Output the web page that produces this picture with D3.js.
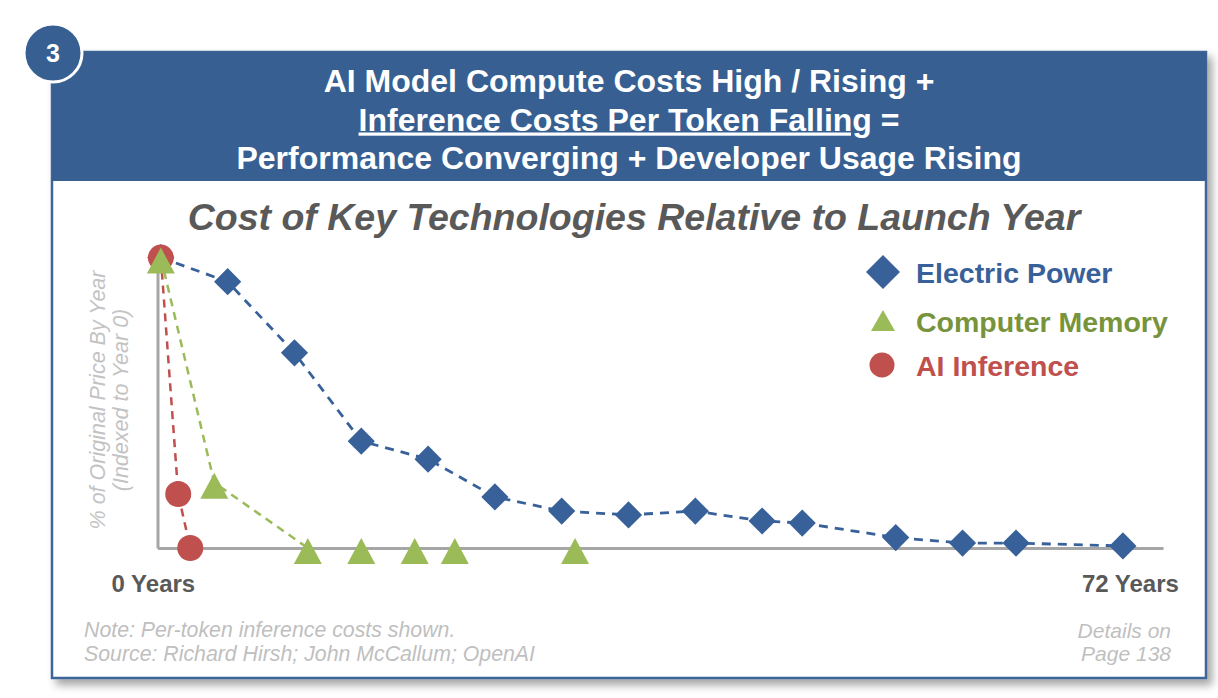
<!DOCTYPE html>
<html>
<head>
<meta charset="utf-8">
<script src="https://cdn.jsdelivr.net/npm/d3@7"></script>
<style>
  body { margin: 0; background: #fff; }
  text { font-family: Arial, "Liberation Sans", sans-serif; }
</style>
</head>
<body>
<svg id="chart" width="1218" height="698"></svg>
<script>
// series (x = years since launch, y = % of year-0 price)
const powerYears  = [0, 5, 10, 15, 20, 25, 30, 35, 40, 45, 48, 55, 60, 64, 72];
const powerValues = [100, 91.7, 67.2, 36.8, 30.6, 17.6, 12.7, 11.4, 12.7, 9.3, 8.6, 3.6, 1.7, 1.7, 0.7];

const memoryYears  = [0, 4, 11, 15, 19, 22, 31];
const memoryValues = [100, 22.5, 0, 0, 0, 0, 0];

const aiYears  = [0, 1.3, 2.2];
const aiValues = [100, 18.6, 0];

const seriesNames = ["Electric Power", "Computer Memory", "AI Inference"];
const tickValues  = [0, 72];
const tickLabels  = ["0 Years", "72 Years"];

const titleLines = ["AI Model Compute Costs High / Rising +", "Inference Costs Per Token Falling", "Performance Converging + Developer Usage Rising"];
const subtitle = "Cost of Key Technologies Relative to Launch Year";
const yLabel = ["% of Original Price By Year", "(Indexed to Year 0)"];
const notes = ["Note: Per-token inference costs shown.", "Source: Richard Hirsh; John McCallum; OpenAI"];
const details = ["Details on", "Page 138"];

const BLUE = "#38619a", GREEN = "#9bbb59", RED = "#c0504d", BANNER = "#375f92";

const svg = d3.select("#chart");

// drop shadow for the card
const defs = svg.append("defs");
defs.append("filter").attr("id", "shadow")
    .attr("x", "-5%").attr("y", "-5%").attr("width", "110%").attr("height", "115%")
  .append("feDropShadow")
    .attr("dx", 5).attr("dy", 6).attr("stdDeviation", 4)
    .attr("flood-color", "#000").attr("flood-opacity", 0.35);

// card + banner
svg.append("rect")
    .attr("x", 52).attr("y", 52).attr("width", 1154).attr("height", 626)
    .attr("fill", "#fff").attr("stroke", "#3d6597").attr("stroke-width", 2.5)
    .attr("filter", "url(#shadow)");
svg.append("rect")
    .attr("x", 52).attr("y", 52).attr("width", 1154).attr("height", 129)
    .attr("fill", BANNER);

// number badge
svg.append("circle").attr("cx", 53).attr("cy", 53).attr("r", 29)
    .attr("fill", BANNER).attr("stroke", "#fff").attr("stroke-width", 3);
svg.append("text").attr("x", 53).attr("y", 62)
    .attr("text-anchor", "middle").attr("fill", "#fff")
    .attr("font-size", 25).attr("font-weight", "bold").text("3");

// banner title
const tCx = 629;
svg.append("text").attr("x", tCx).attr("y", 92).attr("text-anchor", "middle")
    .attr("fill", "#fff").attr("font-size", 32).attr("font-weight", "bold")
    .text(titleLines[0]);
const t2 = svg.append("text").attr("x", tCx).attr("y", 130.5).attr("text-anchor", "middle")
    .attr("fill", "#fff").attr("font-size", 32).attr("font-weight", "bold");
t2.append("tspan").attr("text-decoration", "underline").text(titleLines[1]);
t2.append("tspan").text(" =");
svg.append("text").attr("x", tCx).attr("y", 169).attr("text-anchor", "middle")
    .attr("fill", "#fff").attr("font-size", 32).attr("font-weight", "bold")
    .text(titleLines[2]);

// chart title
svg.append("text").attr("x", 634).attr("y", 230).attr("text-anchor", "middle")
    .attr("fill", "#595959").attr("font-size", 37.5).attr("font-weight", "bold")
    .attr("font-style", "italic").text(subtitle);

// scales (y axis sits a hair left of year 0)
const x = d3.scaleLinear().domain([-0.25, 75]).range([157.5, 1163]);
const y = d3.scaleLinear().domain([0, 104]).range([548, 246]);

// axes (no ticks, just the grey lines)
const xAxis = svg.append("g").attr("transform", `translate(0,${y(0)})`)
    .call(d3.axisBottom(x).tickValues(tickValues).tickSize(0).tickSizeOuter(0).tickPadding(27)
        .tickFormat((d, i) => tickLabels[i]));
xAxis.select(".domain").attr("stroke", "#a6a6a6").attr("stroke-width", 3);
xAxis.selectAll("text").attr("font-size", 24).attr("font-weight", "bold")
    .attr("fill", "#595959").attr("font-family", "Arial, 'Liberation Sans', sans-serif")
    .attr("dx", (d, i) => i === 0 ? -8 : 7);

const yAxis = svg.append("g").attr("transform", `translate(${x.range()[0]},0)`)
    .call(d3.axisLeft(y).tickValues([]).tickSizeOuter(0));
yAxis.select(".domain").attr("stroke", "#a6a6a6").attr("stroke-width", 3);

// y label
const yl = svg.append("g").attr("transform", "translate(0,400) rotate(-90)");
yl.append("text").attr("x", 0).attr("y", 105).attr("text-anchor", "middle")
    .attr("fill", "#c3c3c3").attr("font-size", 21.5).attr("font-style", "italic").text(yLabel[0]);
yl.append("text").attr("x", 0).attr("y", 128).attr("text-anchor", "middle")
    .attr("fill", "#c3c3c3").attr("font-size", 21.5).attr("font-style", "italic").text(yLabel[1]);

// series
const line = d3.line().x(d => x(d[0])).y(d => y(d[1]));
const zip = (a, b) => a.map((v, i) => [v, b[i]]);

const diamond = d3.symbol().type(d3.symbolSquare).size(370);
const triPath = (w, h) => `M0,${-h / 2 + 3}L${w / 2},${h / 2 + 3}L${-w / 2},${h / 2 + 3}Z`;

function drawLine(data, color, width, dash) {
  svg.append("path").datum(data).attr("d", line)
      .attr("fill", "none").attr("stroke", color)
      .attr("stroke-width", width).attr("stroke-dasharray", dash);
}

// electric power
const powerData = zip(powerYears, powerValues);
drawLine(powerData, BLUE, 2.8, "9,7");
svg.append("g").selectAll("path").data(powerData).join("path")
    .attr("d", diamond)
    .attr("transform", d => `translate(${x(d[0])},${y(d[1])}) rotate(45)`)
    .attr("fill", BLUE);

// AI inference
const aiData = zip(aiYears, aiValues);
drawLine(aiData, RED, 2.5, "8,6");
svg.append("g").selectAll("circle").data(aiData).join("circle")
    .attr("cx", d => x(d[0])).attr("cy", d => y(d[1])).attr("r", 13)
    .attr("fill", RED);

// computer memory: the dashed line stops where the price first hits zero
const memData = zip(memoryYears, memoryValues);
const firstZero = memoryValues.indexOf(0);
drawLine(memData.slice(0, firstZero + 1), GREEN, 2.5, "8,6");
svg.append("g").selectAll("path").data(memData).join("path")
    .attr("d", triPath(28, 26))
    .attr("transform", d => `translate(${x(d[0])},${y(d[1])})`)
    .attr("fill", GREEN);

// legend
const legendColors = [BLUE, GREEN, RED];
const legendText = ["#38619a", "#77933c", "#c0504d"];
const legendY = [272, 321, 365];
const lg = svg.append("g");
seriesNames.forEach((name, i) => {
  const cy = legendY[i];
  if (i === 0) {
    lg.append("path").attr("d", d3.symbol().type(d3.symbolSquare).size(580)())
      .attr("transform", `translate(883,${cy}) rotate(45)`).attr("fill", legendColors[i]);
  } else if (i === 1) {
    lg.append("path").attr("d", "M0,-11L12,10L-12,10Z")
      .attr("transform", `translate(883,${cy})`).attr("fill", legendColors[i]);
  } else {
    lg.append("circle").attr("cx", 882).attr("cy", cy).attr("r", 12.5).attr("fill", legendColors[i]);
  }
  lg.append("text").attr("x", 916).attr("y", cy + 11)
      .attr("fill", legendText[i]).attr("font-size", 28.5).attr("font-weight", "bold").text(name);
});

// footnotes
notes.forEach((t, i) => {
  svg.append("text").attr("x", 84).attr("y", 637 + i * 24)
      .attr("fill", "#bfbfbf").attr("font-size", 21.3).attr("font-style", "italic").text(t);
});
details.forEach((t, i) => {
  svg.append("text").attr("x", 1171).attr("y", 638 + i * 23).attr("text-anchor", "end")
      .attr("fill", "#bfbfbf").attr("font-size", 21).attr("font-style", "italic").text(t);
});
</script>
</body>
</html>
